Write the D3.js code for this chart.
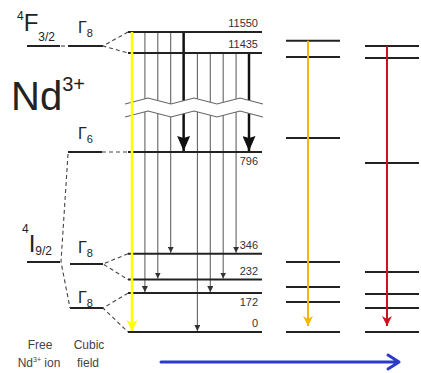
<!DOCTYPE html>
<html lang="en">
<head>
<meta charset="UTF-8" />
<title>Nd3+ energy levels</title>
<script src="https://cdn.jsdelivr.net/npm/d3@7"></script>
<style>
  body { margin: 0; background: #fff; }
  svg { display: block; font-family: "Liberation Sans", Arial, sans-serif; }
</style>
</head>
<body>
<svg width="421" height="373"></svg>
<script>
// Stark levels of Nd3+ (cm-1): 4I9/2 ground manifold + 4F3/2
const levels = [0, 172, 232, 346, 796, 11435, 11550];
const labelBelow = [796, 172];
// emission lines drawn in the main column
const fromUpper = [0, 172, 232, 346, 796];   // from 11550
const fromLower = [0, 172, 232, 346, 796];   // from 11435
// schematic level sets for the two other hosts
const hostA = [0, 133, 199, 310, 858, 11413, 11502];
const hostB = [0, 106, 168, 265, 747, 11408, 11473];

const svg = d3.select("svg");
// broken energy axis
const y = d3.scaleLinear().domain([0, 900, 11300, 11550]).range([332, 128.5, 77.6, 32]);
const xMain = [128, 262];

const defs = svg.append("defs");
function marker(id, w, h, color, notch) {
  defs.append("marker").attr("id", id)
    .attr("markerUnits", "userSpaceOnUse")
    .attr("markerWidth", w).attr("markerHeight", h)
    .attr("viewBox", `0 0 ${w} ${h}`)
    .attr("refX", w).attr("refY", h / 2).attr("orient", "auto")
    .append("path")
    .attr("d", `M0,0L${w},${h / 2}L0,${h}L${notch},${h / 2}Z`)
    .attr("fill", color);
}
marker("thin", 6, 6, "#333", 0);
marker("thick", 15, 13, "#111", 2);
marker("yel", 11, 11, "#ffff00", 3);
marker("ora", 10, 10, "#f5b50a", 3);
marker("red", 10, 10, "#c8141e", 3);

// transitions, grouped by starting level
const xOuter = d3.scaleBand().domain([11550, 11435]).range([132, 249]).paddingInner(0.21);
const xInner = d3.scalePoint().domain(d3.range(5)).range([0, xOuter.bandwidth()]);
const trans = [];
fromUpper.forEach((t, i) => trans.push({ from: 11550, to: t, i }));
fromLower.forEach((t, i) => trans.push({ from: 11435, to: t, i }));

const tr = svg.append("g");
tr.selectAll("line").data(trans.filter(d => !(d.from === 11550 && d.i === 0)))
  .join("line")
  .attr("x1", d => xOuter(d.from) + xInner(d.i))
  .attr("x2", d => xOuter(d.from) + xInner(d.i))
  .attr("y1", d => y(d.from))
  .attr("y2", d => y(d.to) - 1)
  .attr("stroke", d => d.to === 796 ? "#111" : "#555")
  .attr("stroke-width", d => d.to === 796 ? 2.5 : 1)
  .attr("marker-end", d => d.to === 796 ? "url(#thick)" : "url(#thin)");

// axis break
const zx = d3.range(125, 268, 23);
const zig = (c, ph) => zx.map((x, k) => [x, c + ((k + ph) % 2 ? 3 : -3)]);
const zTop = zig(101, 1), zBot = zig(114, 1);
svg.append("path")
  .attr("d", d3.line()(zTop.concat(zBot.slice().reverse())) + "Z")
  .attr("fill", "#fff");
[zTop, zBot].forEach(p => svg.append("path").attr("d", d3.line()(p))
  .attr("fill", "none").attr("stroke", "#666").attr("stroke-width", 1.2));

// main levels
svg.append("g").selectAll("line").data(levels).join("line")
  .attr("x1", xMain[0]).attr("x2", xMain[1])
  .attr("y1", d => y(d)).attr("y2", d => y(d))
  .attr("stroke", "#222").attr("stroke-width", 2);
svg.append("g").selectAll("text").data(levels).join("text")
  .attr("x", 258).attr("text-anchor", "end")
  .attr("y", d => y(d) + (labelBelow.includes(d) ? 13 : -5))
  .attr("font-size", 11).attr("fill", "#333")
  .text(d => d);

// pump line (yellow)
svg.append("line")
  .attr("x1", xOuter(11550)).attr("x2", xOuter(11550))
  .attr("y1", y(11550)).attr("y2", y(0) - 1)
  .attr("stroke", "#ffff00").attr("stroke-width", 2.5)
  .attr("marker-end", "url(#yel)");

// other hosts
function host(data, x0, color, mk) {
  const g = svg.append("g");
  g.selectAll("line").data(data).join("line")
    .attr("x1", x0).attr("x2", x0 + 54)
    .attr("y1", d => y(d)).attr("y2", d => y(d))
    .attr("stroke", "#222").attr("stroke-width", 2);
  g.append("line")
    .attr("x1", x0 + 22).attr("x2", x0 + 22)
    .attr("y1", y(d3.max(data))).attr("y2", y(0) - 6)
    .attr("stroke", color).attr("stroke-width", 2)
    .attr("marker-end", `url(#${mk})`);
}
host(hostA, 286, "#f5b50a", "ora");
host(hostB, 365, "#c8141e", "red");

// free ion and cubic field levels
const lv = svg.append("g").attr("stroke", "#222").attr("stroke-width", 2);
const seg = (x1, x2, yy) => lv.append("line").attr("x1", x1).attr("x2", x2).attr("y1", yy).attr("y2", yy);
seg(27, 60, 46); seg(68, 103, 46);
seg(68, 102, 152);
seg(27, 60, 262); seg(70, 103, 264);
seg(70, 103, 308);

const dash = svg.append("g").attr("stroke", "#444").attr("stroke-width", 1.1)
  .attr("stroke-dasharray", "4,3").attr("fill", "none");
const dl = pts => dash.append("path").attr("d", d3.line()(pts));
dl([[61, 46], [67, 46]]);
dl([[128, y(11550)], [103, 46], [128, y(11435)]]);
dl([[102, 152], [128, y(796)]]);
dl([[68, 154], [61, 262], [70, 308]]);
dl([[128, y(346)], [103, 264], [128, y(232)]]);
dl([[128, y(172)], [103, 308], [128, y(0)]]);

// labels
function term(x, yy, sup, main, sub, supDy, subDy) {
  const t = svg.append("text").attr("x", x).attr("y", yy).attr("fill", "#222");
  t.append("tspan").attr("font-size", 12).attr("dy", supDy).text(sup);
  t.append("tspan").attr("font-size", 24).attr("dy", -supDy).text(main);
  t.append("tspan").attr("font-size", 12).attr("dy", subDy).text(sub);
}
term(17, 31, "4", "F", "3/2", -11, 10);
term(22, 252, "4", "I", "9/2", -19, 3);

function gam(x, yy, sub) {
  const t = svg.append("text").attr("x", x).attr("y", yy).attr("fill", "#222");
  t.append("tspan").attr("font-size", 16).text("\u0393");
  t.append("tspan").attr("font-size", 11).attr("dy", 4).text(sub);
}
gam(78, 33, "8");
gam(78, 139, "6");
gam(78, 253, "8");
gam(78, 303, "8");

const nd = svg.append("text").attr("x", 11).attr("y", 110).attr("fill", "#222");
nd.append("tspan").attr("font-size", 40).text("Nd");
nd.append("tspan").attr("font-size", 20).attr("dy", -19).text("3+");

const bl = svg.append("g").attr("font-size", 12).attr("fill", "#444").attr("text-anchor", "middle");
bl.append("text").attr("x", 40).attr("y", 349).text("Free");
const ion = bl.append("text").attr("x", 39).attr("y", 367);
ion.append("tspan").text("Nd");
ion.append("tspan").attr("font-size", 7).attr("dy", -5).text("3+");
ion.append("tspan").attr("dy", 5).text(" ion");
bl.append("text").attr("x", 89).attr("y", 349).text("Cubic");
bl.append("text").attr("x", 88).attr("y", 367).text("field");

// blue arrow
svg.append("path").attr("d", "M161,362H399M388,355L399,362L388,369")
  .attr("fill", "none").attr("stroke", "#2b3bc8").attr("stroke-width", 3)
  .attr("stroke-linecap", "round").attr("stroke-linejoin", "round");
</script>
</body>
</html>
